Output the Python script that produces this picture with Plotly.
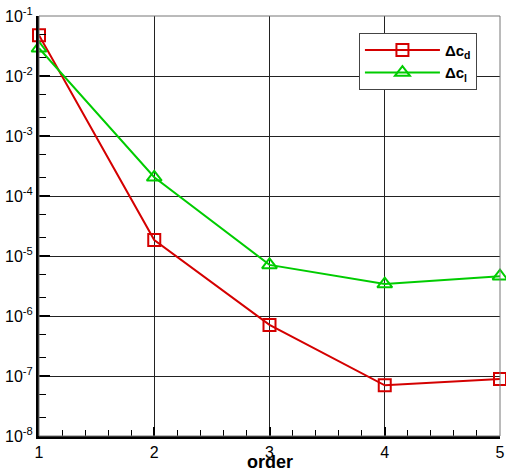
import plotly.graph_objects as go

orders = [1, 2, 3, 4, 5]
delta_cd = [0.048, 1.85e-5, 7.1e-7, 7.0e-8, 8.9e-8]
delta_cl = [0.029, 2.05e-4, 7.1e-6, 3.4e-6, 4.6e-6]
names = ["<b>Δc<sub>d</sub></b>", "<b>Δc<sub>l</sub></b>"]
ytick_vals = [1e-8, 1e-7, 1e-6, 1e-5, 1e-4, 1e-3, 1e-2, 1e-1]
ytick_text = ["10<sup>-8</sup>", "10<sup>-7</sup>", "10<sup>-6</sup>", "10<sup>-5</sup>",
              "10<sup>-4</sup>", "10<sup>-3</sup>", "10<sup>-2</sup>", "10<sup>-1</sup>"]
xtick_vals = [1, 2, 3, 4, 5]

RED = "#d40000"
GREEN = "#00cc00"

fig = go.Figure()
fig.add_trace(go.Scatter(x=orders, y=delta_cd, name=names[0], mode="lines+markers",
                         cliponaxis=False,
                         line=dict(color=RED, width=2),
                         marker=dict(symbol="square-open", size=12, color=RED, line=dict(width=2))))
fig.add_trace(go.Scatter(x=orders, y=delta_cl, name=names[1], mode="lines+markers",
                         cliponaxis=False,
                         line=dict(color=GREEN, width=2),
                         marker=dict(symbol="triangle-up-open", size=13, color=GREEN, line=dict(width=2))))

font = "Liberation Sans, Arial, sans-serif"
fig.update_layout(
    width=506, height=474,
    margin=dict(l=39, r=6, t=16, b=38),
    paper_bgcolor="white", plot_bgcolor="white",
    font=dict(family=font, color="black", size=14),
    showlegend=True,
    legend=dict(x=0.694, y=0.96, xanchor="left", yanchor="top",
                bgcolor="white", bordercolor="#444", borderwidth=1,
                font=dict(size=15, family=font), itemwidth=75,
                tracegroupgap=0),
    xaxis=dict(range=[1, 5], tickvals=xtick_vals, ticks="inside", ticklen=9, tickwidth=2,
               tickcolor="black", showgrid=True, gridcolor="#222", gridwidth=1,
               showline=True, linecolor="black", linewidth=3, mirror=False,
               minor=dict(dtick=0.2, ticks="inside", ticklen=6, tickwidth=1, tickcolor="black", showgrid=False),
               tickfont=dict(size=16), zeroline=False, automargin=False),
    yaxis=dict(type="log", range=[-8, -1], tickvals=ytick_vals, ticktext=ytick_text,
               ticks="inside", ticklen=11, tickwidth=2, tickcolor="black",
               showgrid=True, gridcolor="#222", gridwidth=1,
               showline=True, linecolor="black", linewidth=3,
               minor=dict(ticks="inside", ticklen=7, tickwidth=1, tickcolor="black", showgrid=False),
               tickfont=dict(size=16), zeroline=False, automargin=False),
)
fig.add_annotation(text="<b>order</b>", xref="paper", yref="paper", x=0.5, y=0,
                   yshift=-38, yanchor="bottom", showarrow=False, font=dict(size=18, family=font))
# thin gray top/right frame
fig.add_shape(type="rect", xref="paper", yref="paper", x0=0, y0=0, x1=1, y1=1,
              line=dict(color="#777", width=1), layer="above")
fig.write_html("out.html", config={"displayModeBar": False},
               post_script="document.body.style.margin='0';document.body.style.overflow='hidden';")
